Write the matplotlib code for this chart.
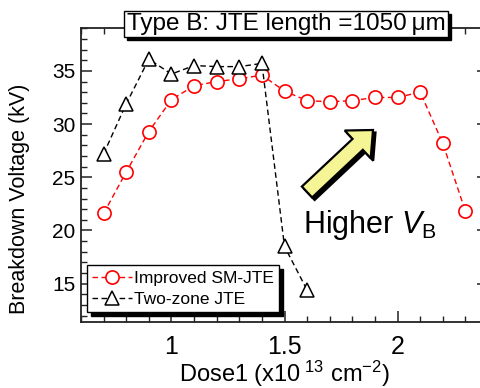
import matplotlib
matplotlib.use("Agg")
import matplotlib.pyplot as plt
from matplotlib.patches import FancyArrow, Rectangle
from matplotlib.ticker import MultipleLocator

plt.rcParams['font.family'] = ['Liberation Sans', 'DejaVu Sans']
plt.rcParams['mathtext.fontset'] = 'custom'
plt.rcParams['mathtext.rm'] = 'Liberation Sans'
plt.rcParams['mathtext.it'] = 'Liberation Sans:italic'

# Data
dose_sm = [0.7, 0.8, 0.9, 1.0, 1.1, 1.2, 1.3, 1.4, 1.5, 1.6, 1.7, 1.8, 1.9, 2.0, 2.1, 2.2, 2.3]
vb_sm = [21.6, 25.5, 29.3, 32.3, 33.6, 34.0, 34.25, 34.6, 33.1, 32.2, 32.1, 32.2, 32.5, 32.5, 33.0, 28.2, 21.8]
dose_tz = [0.7, 0.8, 0.9, 1.0, 1.1, 1.2, 1.3, 1.4, 1.5, 1.6]
vb_tz = [27.2, 31.9, 36.1, 34.7, 35.5, 35.4, 35.4, 35.7, 18.5, 14.4]
label_sm = "Improved SM-JTE"
label_tz = "Two-zone JTE"

W, H = 480, 388
fig = plt.figure(figsize=(W / 100, H / 100), dpi=100)
ax = fig.add_axes([81 / W, (H - 322) / H, (488 - 81) / W, (322 - 28.3) / H])

ax.plot(dose_sm, vb_sm, color='red', linestyle=(0, (4, 2.5)), lw=1.0,
        marker='o', markersize=9.5, markerfacecolor='white', markeredgecolor='red',
        markeredgewidth=1.2, label=label_sm)
ax.plot(dose_tz, vb_tz, color='black', linestyle=(0, (4, 2.5)), lw=1.0,
        marker='^', markersize=10.5, markerfacecolor='white', markeredgecolor='black',
        markeredgewidth=1.1, label=label_tz)

ax.set_xlim(0.6, 2.4)
ax.set_ylim(11.4, 39)
ax.xaxis.set_minor_locator(MultipleLocator(0.1))
ax.yaxis.set_minor_locator(MultipleLocator(1))
ax.set_xticks([1.0, 1.5, 2.0])
ax.set_xticklabels(['1', '1.5', '2'])
ax.set_yticks([15, 20, 25, 30, 35])
ax.tick_params(which='both', direction='in', top=True, right=True, color='#222222')
ax.tick_params(which='major', length=8, width=1.1)
ax.tick_params(which='minor', length=4.5, width=1.0)
ax.tick_params(axis='x', labelsize=18, pad=9)
ax.tick_params(axis='y', labelsize=15, pad=4)
for s in ax.spines.values():
    s.set_linewidth(1.3)
    s.set_color('#222222')

ax.set_ylabel("Breakdown Voltage (kV)", fontsize=15.5)
ax.yaxis.set_label_coords(-0.125, 0.42)
ax.set_xlabel("Dose1 (x10$^{\\ 13}$ cm$^{-2}$)", fontsize=17, labelpad=0)

leg = ax.legend(loc='lower left', bbox_to_anchor=(0.015, 0.034), borderaxespad=0,
                fontsize=12.5, frameon=True, fancybox=False, edgecolor='black',
                framealpha=1, numpoints=1, handlelength=2.3, handletextpad=0.1,
                borderpad=0.3, labelspacing=0.35,
                shadow={'color': 'black', 'alpha': 1, 'ox': 3, 'oy': -3})
leg.get_frame().set_linewidth(1.0)

# Title box with shadow
title = "Type B: JTE length =1050\u2009\u03bcm"
tx, ty = 286 / W, (H - 24) / H
t = fig.text(tx, ty, title, fontsize=17.5, ha='center', va='center', color='black', zorder=10,
             bbox=dict(boxstyle='square,pad=0.1', fc='white', ec='black', lw=1))
fig.canvas.draw()
bb = t.get_bbox_patch().get_window_extent(renderer=fig.canvas.get_renderer())
fig.patches.append(Rectangle((bb.x0 + 3, bb.y0 - 3), bb.width, bb.height,
                             transform=None, fc='black', ec='black', zorder=9))

# Annotation: Higher V_B
ax.text(1.582, 19.8, "Higher $V_{\\mathrm{B}}$", fontsize=22, ha='left', va='baseline')

# Yellow arrow (in inches)
x0, y0 = 3.07, (H - 192) / 100
x1, y1 = 3.73, (H - 130) / 100
for off, fc, z in [((0.025, -0.025), 'black', 5), ((0, 0), '#f6f595', 6)]:
    arr = FancyArrow(x0 + off[0], y0 + off[1], x1 - x0, y1 - y0, width=0.15,
                     head_width=0.38, head_length=0.21, length_includes_head=True,
                     transform=fig.dpi_scale_trans, fc=fc, ec='black', lw=1.6, zorder=z)
    fig.patches.append(arr)

fig.savefig("out.png", dpi=100)
